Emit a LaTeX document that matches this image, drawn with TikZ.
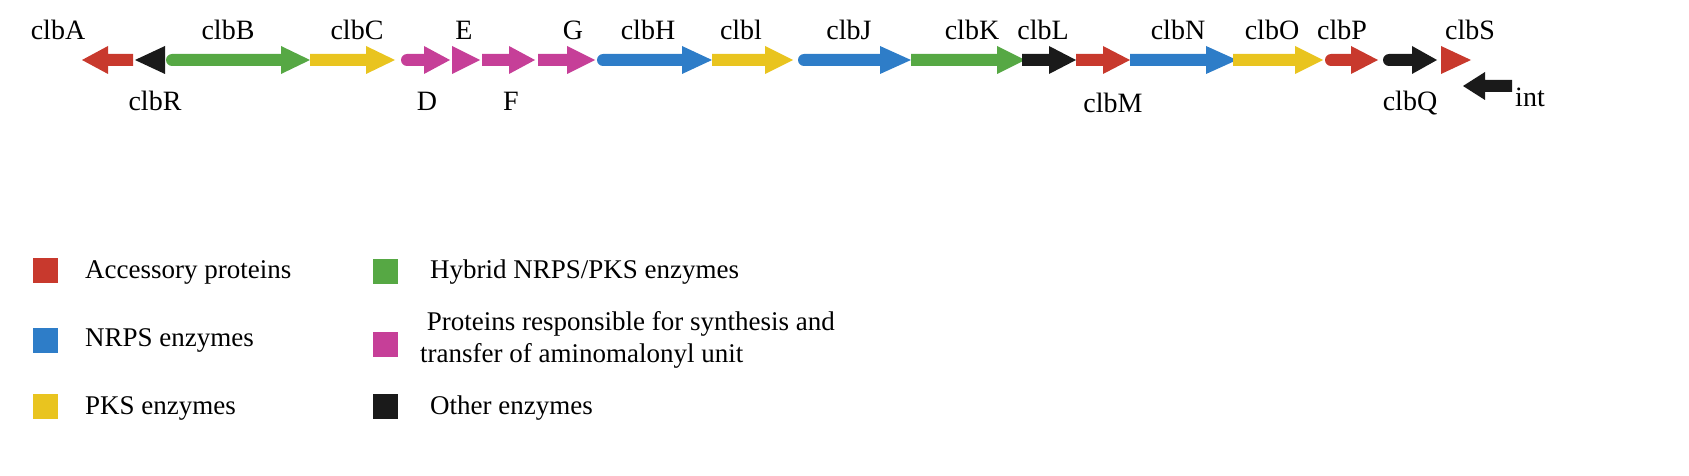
\documentclass[tikz,border=0pt]{standalone}
\usepackage{fontspec}
\setmainfont{Liberation Serif}
\definecolor{cRed}{HTML}{C8392D}
\definecolor{cGreen}{HTML}{56A844}
\definecolor{cYel}{HTML}{E9C41F}
\definecolor{cMag}{HTML}{C63F98}
\definecolor{cBlue}{HTML}{2E7DC8}
\definecolor{cBlk}{HTML}{1A1A1A}
% right arrow: start, headbase, tip, color
\newcommand\rarr[4]{\fill[#4] (#1,54) -- (#2,54) -- (#2,46) -- (#3,60) -- (#2,74) -- (#2,66) -- (#1,66) -- cycle;}
\newcommand\rarrR[4]{\fill[#4] (#1,54) -- (#2,54) -- (#2,46) -- (#3,60) -- (#2,74) -- (#2,66) -- (#1,66) arc[start angle=90,end angle=270,radius=6] -- cycle;}
\newcommand\rtri[3]{\fill[#3] (#1,46) -- (#2,60) -- (#1,74) -- cycle;}
\begin{document}
\begin{tikzpicture}[x=1pt,y=-1pt,
 lab/.style={font=\fontsize{28}{30}\selectfont,inner sep=0pt},
 leg/.style={font=\fontsize{27}{32}\selectfont,inner sep=0pt,anchor=west,align=left},
 sq/.style={minimum size=25pt,inner sep=0pt}]
\useasboundingbox (0,0) rectangle (1689,476);
% genes
\fill[cRed] (133,54) -- (108,54) -- (108,46) -- (82,60) -- (108,74) -- (108,66) -- (133,66) -- cycle;
\fill[cBlk] (165,46) -- (135,60) -- (165,74) -- cycle;
\rarrR{172}{281}{310}{cGreen}
\rarr{310}{366}{395}{cYel}
\rarrR{407}{424}{450}{cMag}
\rtri{452}{480}{cMag}
\rarr{482}{509}{535}{cMag}
\rarr{538}{567}{595}{cMag}
\rarrR{603}{682}{712}{cBlue}
\rarr{712}{765}{793}{cYel}
\rarrR{804}{880}{911}{cBlue}
\rarr{911}{997}{1025}{cGreen}
\rarr{1022}{1049}{1076}{cBlk}
\rarr{1076}{1103}{1130}{cRed}
\rarr{1130}{1206}{1237}{cBlue}
\rarr{1233}{1295}{1323}{cYel}
\rarrR{1331}{1351}{1378}{cRed}
\rarrR{1389}{1412}{1437}{cBlk}
\rtri{1441}{1471}{cRed}
\fill[cBlk] (1512,80) -- (1485,80) -- (1485,72) -- (1463,86) -- (1485,100) -- (1485,92) -- (1512,92) -- cycle;
% labels
\node[lab] (lA) at (58,30) {clbA};
\node[lab] (lB) at (228,30) {clbB};
\node[lab] (lC) at (357,30) {clbC};
\node[lab] (lE) at (464,30) {E};
\node[lab] (lG) at (573,30) {G};
\node[lab] (lH) at (648,30) {clbH};
\node[lab] (lI) at (741,30) {clbl};
\node[lab] (lJ) at (849,30) {clbJ};
\node[lab] (lK) at (972,30) {clbK};
\node[lab] (lL) at (1043,30) {clbL};
\node[lab] (lN) at (1178,30) {clbN};
\node[lab] (lO) at (1272,30) {clbO};
\node[lab] (lP) at (1342,30) {clbP};
\node[lab] (lS) at (1470,30) {clbS};
\node[lab] (lR) at (155,101) {clbR};
\node[lab] (lD) at (427,101) {D};
\node[lab] (lF) at (511,101) {F};
\node[lab] (lM) at (1113,103) {clbM};
\node[lab] (lQ) at (1410,103) {clbQ};
\node[lab] (li) at (1530,97) {int};
% legend
\node[sq,fill=cRed] (s1) at (45,270) {};
\node[sq,fill=cBlue] (s2) at (45,340) {};
\node[sq,fill=cYel] (s3) at (45,406) {};
\node[sq,fill=cGreen] (s4) at (385,271) {};
\node[sq,fill=cMag] (s5) at (385,344) {};
\node[sq,fill=cBlk] (s6) at (385,406) {};
\node[leg] (t1) at (85,272) {Accessory proteins};
\node[leg] (t2) at (85,340) {NRPS enzymes};
\node[leg] (t3) at (85,408) {PKS enzymes};
\node[leg] (t4) at (430,272) {Hybrid NRPS/PKS enzymes};
\node[leg] (t5) at (420,340) {\ Proteins responsible for synthesis and\\transfer of aminomalonyl unit};
\node[leg] (t6) at (430,408) {Other enzymes};
\end{tikzpicture}
\end{document}
